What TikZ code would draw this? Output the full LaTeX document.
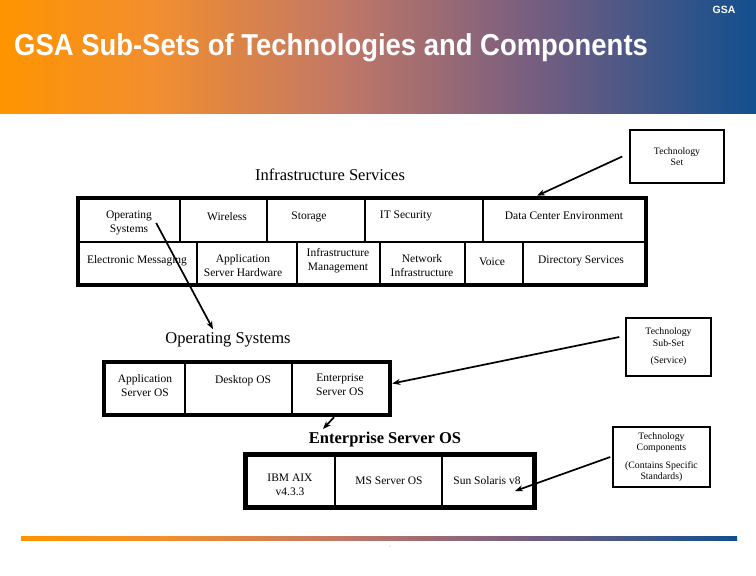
\documentclass[tikz,border=0pt]{standalone}
\usepackage{fontspec}
\setmainfont{Liberation Serif}
\newfontfamily\headsans{Liberation Sans}
\usetikzlibrary{arrows.meta,positioning,calc}

\pgfdeclarehorizontalshading{headgrad}{100bp}{rgb(0bp)=(1,0.58,0);
  rgb(25bp)=(1,0.58,0); rgb(35bp)=(0.95,0.56,0.18);
  rgb(47.5bp)=(0.76,0.47,0.40); rgb(60bp)=(0.47,0.37,0.50);
  rgb(75bp)=(0.07,0.31,0.56); rgb(100bp)=(0.07,0.31,0.56)}

\newcommand\cellfont{\fontsize{11.5}{14}\selectfont}
\newcommand\tagfont{\fontsize{9.8}{11.5}\selectfont}
\newcommand\headfont{\fontsize{16.5}{18}\selectfont}

\begin{document}
\begin{tikzpicture}[
  x=1pt, y=-1pt, >=Stealth,
  cell/.style={font=\cellfont, align=center, inner sep=1pt},
  frame/.style={draw, line width=4.5pt, inner sep=0pt},
  divider/.style={line width=2.5pt},
  tagbox/.style={draw, line width=1.5pt, align=center, font=\tagfont, inner sep=2pt},
  heading/.style={font=\headfont},
  pointer/.style={-{Stealth[length=8pt,width=6pt]}, line width=1.7pt},
]
\fill[white] (0,0) rectangle (756,576);
\useasboundingbox (0,0) rectangle (756,576);

\shade[shading=headgrad] (0,0) rectangle (756,113);
\node[anchor=base west, inner sep=0pt, text=white,
  font=\headsans\bfseries\fontsize{28}{30}\selectfont]
  (title) at (14,55) {\scalebox{0.98}[1.08]{GSA Sub-Sets of Technologies and Components}};
\node[text=white, font=\headsans\bfseries\fontsize{10.5}{12}\selectfont]
  (logo) at (724,10) {GSA};

\shade[shading=headgrad] (21,536) rectangle (737,540);
\node[font=\tiny, inner sep=0pt] (dot) at (390,547) {.};

% infrastructure services
\node[heading] (infratitle) at (330,175) {Infrastructure Services};
\node[frame, minimum width=568pt, minimum height=87pt] (infra) at (362,241.5) {};
\draw[divider] (78,242) -- (646,242);
\foreach \x in {180,267,365,483} \draw[divider] (\x,198) -- (\x,242);
\foreach \x in {197,297,380,465,523} \draw[divider] (\x,242) -- (\x,285);

\node[cell] (opsys) at (129,223) {Operating\\Systems};
\node[cell] (wireless) at (227,217) {Wireless};
\node[cell] (storage) at (309,217) {Storage};
\node[cell] (itsec) at (406,216) {IT Security};
\node[cell] (datactr) at (564,216) {Data Center Environment};
\node[cell] (emsg) at (137,261) {Electronic Messaging};
\node[cell] (apphw) at (243,266) {Application\\Server Hardware};
\node[cell] (infmgmt) at (338,261) {Infrastructure\\Management};
\node[cell] (netinf) at (422,266) {Network\\Infrastructure};
\node[cell] (voice) at (492,262) {Voice};
\node[cell] (dirsvc) at (581,261) {Directory Services};

% operating systems
\node[heading] (ostitle) at (228,340) {Operating Systems};
\node[frame, minimum width=286pt, minimum height=53pt] (osbox) at (247,388.5) {};
\foreach \x in {185,292} \draw[divider] (\x,362) -- (\x,415);
\node[cell] (appos) at (145,386) {Application\\Server OS};
\node[cell] (desktop) at (243,381) {Desktop OS};
\node[cell] (entos) at (340,385) {Enterprise\\Server OS};

% enterprise server os
\node[heading, font=\headfont\bfseries] (estitle) at (385,440) {Enterprise Server OS};
\node[frame, minimum width=289pt, minimum height=53pt] (esbox) at (390,481) {};
\foreach \x in {335,442} \draw[divider] (\x,454.5) -- (\x,507.5);
\node[cell] (ibmaix) at (290,485) {IBM AIX\\v4.3.3};
\node[cell] (msos) at (389,481) {MS Server OS};
\node[cell] (solaris) at (487,481) {Sun Solaris v8};

% legend boxes
\node[tagbox, minimum width=94pt, minimum height=53pt] (techset) at (677,156.5)
  {Technology\\Set};
\node[tagbox, minimum width=85pt, minimum height=58pt] (subset) at (668.5,347)
  {Technology\\Sub-Set\\[6pt](Service)};
\node[tagbox, minimum width=97pt, minimum height=60pt] (techcomp) at (661.5,457)
  {Technology\\Components\\[6pt](Contains Specific\\Standards)};

\draw[pointer] ([xshift=-7pt]techset.west) -- ([xshift=175pt]infra.north);
\draw[pointer] ([xshift=3pt]opsys.east) -- ([xshift=-15pt]ostitle.north);
\draw[pointer] ([shift={(-6,-10)}]subset.west) -- ([yshift=5pt]osbox.east);
\draw[pointer] ([xshift=-2pt]techcomp.west) -- ([shift={(28,10)}]solaris.center);
\draw[pointer] ([xshift=87pt]osbox.south) -- ([xshift=-62pt]estitle.north);
\end{tikzpicture}
\end{document}
